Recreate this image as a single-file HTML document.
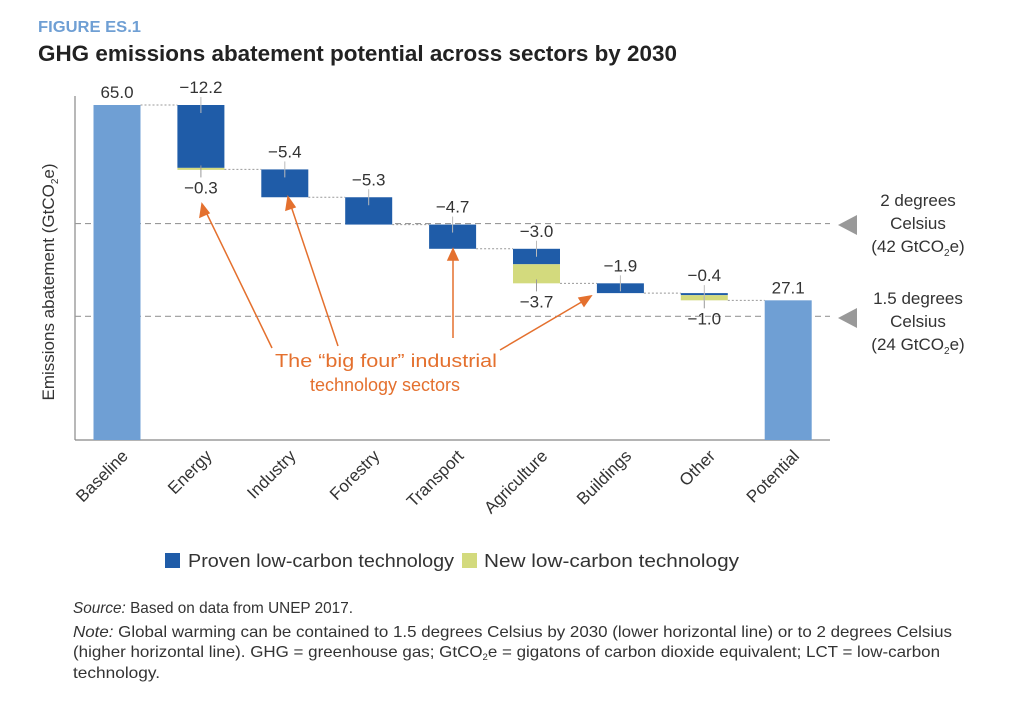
<!DOCTYPE html>
<html><head><meta charset="utf-8"><style>
body{margin:0;background:#fff;width:1010px;height:704px;overflow:hidden;font-family:"Liberation Sans",sans-serif}
svg{position:absolute;left:0;top:0}
</style></head><body>
<svg width="1010" height="704" font-family="Liberation Sans, sans-serif">
<text x="38" y="32" font-size="16" font-weight="bold" fill="#6f9fd4" textLength="103" lengthAdjust="spacingAndGlyphs">FIGURE ES.1</text>
<text x="38" y="61" font-size="22" font-weight="bold" fill="#222" textLength="639" lengthAdjust="spacingAndGlyphs">GHG emissions abatement potential across sectors by 2030</text>
<line x1="75" y1="96" x2="75" y2="440" stroke="#888" stroke-width="1.2"/>
<line x1="75" y1="440" x2="830" y2="440" stroke="#888" stroke-width="1.2"/>
<text transform="translate(54,282) rotate(-90)" text-anchor="middle" font-size="17" fill="#333">Emissions abatement (GtCO<tspan font-size="10" dy="4">2</tspan><tspan dy="-4">e)</tspan></text>
<g id="marks"></g>
<g stroke="#e4702e" stroke-width="1.5" fill="#e4702e">
<line x1="272" y1="348" x2="205" y2="210"/><polygon points="202,204 200,217 209,213"/>
<line x1="338" y1="346" x2="290" y2="203"/><polygon points="288,197 286,210 295,207"/>
<line x1="453" y1="338" x2="453" y2="256"/><polygon points="453,249 448,260 458,260"/>
<line x1="500" y1="350" x2="585" y2="300"/><polygon points="591,296 579,298 584,306"/>
</g>
<text x="275" y="367" font-size="18" fill="#e4702e" textLength="222" lengthAdjust="spacingAndGlyphs">The “big four” industrial</text>
<text x="385" y="391" text-anchor="middle" font-size="18" fill="#e4702e">technology sectors</text>
<g font-size="17" fill="#333" text-anchor="middle">
<polygon points="838,225 857,215 857,235" fill="#999"/>
<text x="918" y="206">2 degrees</text><text x="918" y="229">Celsius</text>
<text x="918" y="252">(42 GtCO<tspan font-size="10" dy="4">2</tspan><tspan dy="-4">e)</tspan></text>
</g>
<g font-size="17" fill="#333" text-anchor="middle">
<polygon points="838,318 857,308 857,328" fill="#999"/>
<text x="918" y="304">1.5 degrees</text><text x="918" y="327">Celsius</text>
<text x="918" y="350">(24 GtCO<tspan font-size="10" dy="4">2</tspan><tspan dy="-4">e)</tspan></text>
</g>
<rect x="165" y="553" width="15" height="15" fill="#1f5ca8"/>
<text x="188" y="567" font-size="18" fill="#333" textLength="266" lengthAdjust="spacingAndGlyphs">Proven low-carbon technology</text>
<rect x="462" y="553" width="15" height="15" fill="#d3da7d"/>
<text x="484" y="567" font-size="18" fill="#333" textLength="255" lengthAdjust="spacingAndGlyphs">New low-carbon technology</text>
<g font-size="16" fill="#333">
<text x="73" y="613" textLength="280" lengthAdjust="spacingAndGlyphs"><tspan font-style="italic">Source:</tspan> Based on data from UNEP 2017.</text>
<text x="73" y="637" textLength="879" lengthAdjust="spacingAndGlyphs"><tspan font-style="italic">Note:</tspan> Global warming can be contained to 1.5 degrees Celsius by 2030 (lower horizontal line) or to 2 degrees Celsius</text>
<text x="73" y="657" textLength="867" lengthAdjust="spacingAndGlyphs">(higher horizontal line). GHG = greenhouse gas; GtCO<tspan font-size="9" dy="3">2</tspan><tspan dy="-3">e = gigatons of carbon dioxide equivalent; LCT = low-carbon</tspan></text>
<text x="73" y="678" textLength="87" lengthAdjust="spacingAndGlyphs">technology.</text>
</g>
</svg>
<script>
const categories=["Baseline","Energy","Industry","Forestry","Transport","Agriculture","Buildings","Other","Potential"];
const provenValues=[65.0,-12.2,-5.4,-5.3,-4.7,-3.0,-1.9,-0.4,27.1];
const newValues=[0,-0.3,0,0,0,-3.7,0,-1.0,0];
const thresholds=[42,24];
const NS="http://www.w3.org/2000/svg";
const g=document.getElementById('marks');
function y(v){return 440-v*(335/65);}
function xc(i){return 117+i*83.9;}
const W=47;
function mk(tag,attrs,parent){const e=document.createElementNS(NS,tag);for(const k in attrs)e.setAttribute(k,attrs[k]);(parent||g).appendChild(e);return e;}
thresholds.forEach((t,i)=>{
 const l=mk('line',{x1:75,x2:830,y1:y(t),y2:y(t),stroke:'#999','stroke-width':1.2,'stroke-dasharray':'6,4'});
 
 
});
let level=0;
categories.forEach((c,i)=>{
 const cx=xc(i);
 if(i===0||i===categories.length-1){
  const v=provenValues[i];
  const r=mk('rect',{x:cx-W/2,y:y(v),width:W,height:y(0)-y(v),fill:'#6f9fd4'});
  
  
  const t=mk('text',{x:cx,y:y(v)-7,'text-anchor':'middle','font-size':17,fill:'#333'});t.textContent=v.toFixed(1);
  
  
  level=v;
 } else {
  const p=provenValues[i],n=newValues[i];
  const a=level,b=level+p,d=b+n;
  const r=mk('rect',{x:cx-W/2,y:y(a),width:W,height:y(b)-y(a),fill:'#1f5ca8'});
  
  
  if(n!==0){
   const r2=mk('rect',{x:cx-W/2,y:y(b),width:W,height:Math.max(y(d)-y(b),2),fill:'#d3da7d'});
   
   
   mk('line',{x1:cx,x2:cx,y1:y(d)-4,y2:y(d)+8,stroke:'#999'});
   const t2=mk('text',{x:cx,y:y(d)+24,'text-anchor':'middle','font-size':17,fill:'#333'});t2.textContent='\u2212'+Math.abs(n).toFixed(1);
   
   
  }
  mk('line',{x1:cx,x2:cx,y1:y(a)-8,y2:y(a)+8,stroke:'#bbb'});
  const t=mk('text',{x:cx,y:y(a)-12,'text-anchor':'middle','font-size':17,fill:'#333'});t.textContent='\u2212'+Math.abs(p).toFixed(1);
  
  
  level=d;
 }
 if(i<categories.length-1){
  const cl=mk('line',{x1:cx+W/2,x2:xc(i+1)-W/2,y1:y(level),y2:y(level),stroke:'#999','stroke-dasharray':'2,2'});
  
  
 }
 const lab=mk('text',{transform:`translate(${cx+12},457) rotate(-45)`,'text-anchor':'end','font-size':17,fill:'#333'});
 lab.textContent=c;
 
 
});
</script>
</body></html>
